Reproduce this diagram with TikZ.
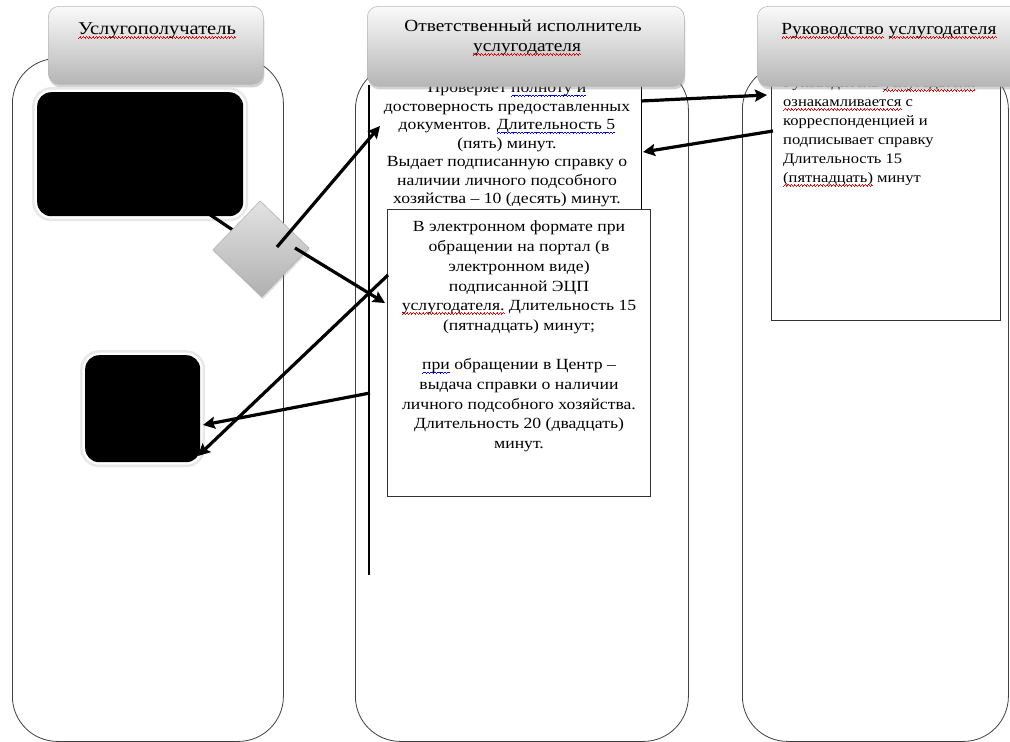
\documentclass[tikz,border=0pt]{standalone}
\usepackage{fontspec}
\setmainfont{Liberation Serif}[FakeStretch=1.14]
\usetikzlibrary{shadows,arrows.meta}
\newsavebox\wvbox
\newcommand\wavyunit{\hbox{\raise0pt\hbox{\vrule width0.8pt height0.7pt depth0pt}\raise0.8pt\hbox{\vrule width0.8pt height0.7pt depth0pt}\raise1.6pt\hbox{\vrule width0.8pt height0.7pt depth0pt}\raise0.8pt\hbox{\vrule width0.8pt height0.7pt depth0pt}}}
\newcommand\wavyline[2]{\sbox\wvbox{#2}\rlap{\raisebox{-4pt}[0pt][0pt]{\color{#1}\hbox to \wd\wvbox{\xleaders\wavyunit\hfil}}}\usebox\wvbox}
\newcommand\rwave{\wavyline{red}}
\newcommand\bwave{\wavyline{blue}}
\tikzset{
  lane/.style={draw=black!75, line width=0.8pt, rounded corners=45pt, inner sep=0pt, anchor=north west},
  hdr/.style={draw=gray!55, line width=0.6pt, rounded corners=11pt, top color=gray!4, bottom color=gray!58, inner sep=0pt, anchor=north west, drop shadow={opacity=0.35, shadow xshift=1pt, shadow yshift=-3pt}},
  hdrtxt/.style={font=\fontsize{17}{20}\selectfont, inner sep=0pt, anchor=base},
  bodytxt/.style={font=\fontsize{15.5}{18.5}\selectfont, align=center, inner sep=0pt, anchor=north},
  panel/.style={draw=black!80, line width=0.8pt, fill=white, inner sep=0pt, anchor=north west},
  blk/.style={fill=black, rounded corners=14pt, inner sep=0pt, anchor=north west, preaction={draw=gray!18, line width=10pt}, preaction={draw=white, line width=5pt}},
  conn/.style={line width=3.2pt},
  arr/.style={line width=3.2pt, -{Stealth[length=12pt, width=12pt, inset=2pt]}},
}
\begin{document}
\begin{tikzpicture}[x=1pt,y=-1pt]
\useasboundingbox (0,0) rectangle (1010,742);
\fill[white] (0,0) rectangle (1010,742);
% lanes
\node[lane, minimum width=271pt, minimum height=683pt] (lane1) at (12,58) {};
\node[lane, minimum width=333pt, minimum height=677pt] (lane2) at (355,64) {};
\node[lane, minimum width=266pt, minimum height=677pt] (lane3) at (742,64) {};
% box 1 (middle, upper)
\node[fill=white, inner sep=0pt, anchor=north west, minimum width=272pt, minimum height=150pt] (box1) at (369,70) {};
\draw[line width=0.8pt] (box1.north east) -- (box1.south east);
\node[bodytxt] (t1) at (507,82.5) {Проверяет \bwave{полноту и}\\ достоверность предоставленных\\ документов. \bwave{Длительность 5}\\ (пять) минут.\\ Выдает подписанную справку о\\ наличии личного  подсобного\\ хозяйства – 10 (десять) минут.};
% box 2
\node[panel, minimum width=263pt, minimum height=287pt] (box2) at (387,209) {};
\node[bodytxt, font=\fontsize{15.5}{19.7}\selectfont] (t2) at (519,221) {В электронном формате при\\ обращении на портал (в\\ электронном  виде)\\ подписанной ЭЦП\\ \rwave{услугодателя.} Длительность 15\\ (пятнадцать) минут;\\ \mbox{}\\ \bwave{при} обращении в Центр –\\ выдача справки о наличии\\ личного подсобного хозяйства.\\ Длительность 20 (двадцать)\\ минут.};
% box 3
\node[panel, minimum width=229pt, minimum height=250pt] (box3) at (771,70) {};
\node[font=\fontsize{14.5}{19}\selectfont, align=left, inner sep=0pt, anchor=north west] (t3) at (783,78) {Руководитель \rwave{услугодателя}\\ \rwave{ознакамливается} с\\ корреспонденцией и\\ подписывает справку\\ Длительность 15\\ \rwave{(пятнадцать)} минут};
% vertical thick line
\coordinate (vtop) at (369,85);
\coordinate (vbot) at (369,575);
\draw[line width=2pt] (vtop) -- (vbot);
% headers
\node[hdr, minimum width=215pt, minimum height=78pt] (h1) at (48,6) {};
\node[hdrtxt, font=\fontsize{18}{20}\selectfont] (h1t) at (157,34.5) {\rwave{Услугополучатель}};
\node[hdr, minimum width=317pt, minimum height=80pt] (h2) at (367,6) {};
\node[hdrtxt] (h2a) at (523,31) {Ответственный исполнитель};
\node[hdrtxt] (h2b) at (527,51.5) {\rwave{услугодателя}};
\node[hdr, minimum width=270pt, minimum height=80pt] (h3) at (757,6) {};
\node[hdrtxt] (h3t) at (889,34.5) {\rwave{Руководство} \rwave{услугодателя}};
% black boxes
\node[blk, minimum width=206pt, minimum height=124pt] (boxA) at (37,92) {};
\coordinate (aout) at (209,214);
\coordinate (dc) at (261,249);
\draw[conn] (aout) -- (dc);
\node[blk, minimum width=115pt, minimum height=107pt] (boxB) at (85,355) {};
% diamond
\node[draw=gray!60, line width=0.6pt, top color=gray!22, bottom color=gray!62, minimum size=68pt, rotate=46, inner sep=0pt, drop shadow={opacity=0.25, shadow xshift=1pt, shadow yshift=-2pt}] (dia) at (dc) {};
% arrows
\coordinate (d1) at (277,247); \coordinate (e1) at (380,126);
\coordinate (d2) at (295,248); \coordinate (e2) at (385,303);
\coordinate (s3) at (388,275); \coordinate (e3) at (198,456);
\coordinate (s4) at (370,393); \coordinate (e4) at (203,425);
\coordinate (s5) at (641,101); \coordinate (e5) at (767,95);
\coordinate (s6) at (773,131); \coordinate (e6) at (643,152);
\draw[arr] (d1) -- (e1);
\draw[arr] (d2) -- (e2);
\draw[arr] (s3) -- (e3);
\draw[arr] (s4) -- (e4);
\draw[arr] (s5) -- (e5);
\draw[arr] (s6) -- (e6);
\end{tikzpicture}
\end{document}
